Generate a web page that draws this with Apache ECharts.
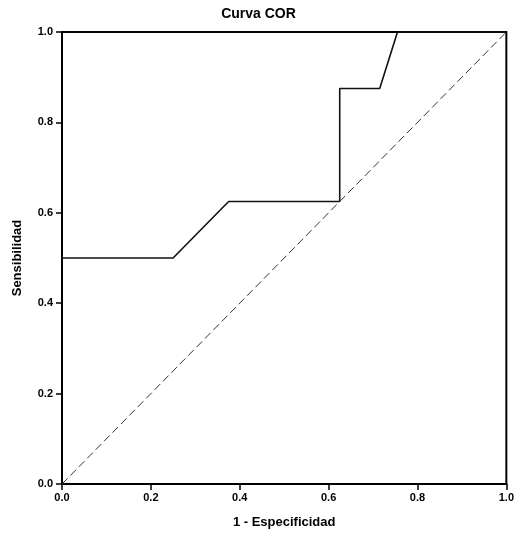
<!DOCTYPE html>
<html>
<head>
<meta charset="utf-8">
<script src="https://cdn.jsdelivr.net/npm/echarts@6/dist/echarts.min.js"></script>
<style>
html,body{margin:0;padding:0;background:#fff;}
#main{width:517px;height:536px;}
</style>
</head>
<body>
<div id="main"></div>
<script>
// curva COR: 1 - especificidad vs sensibilidad
let fpr = [0, 0.25, 0.375, 0.625, 0.625, 0.715, 0.755, 1.0];
let tpr = [0.5, 0.5, 0.625, 0.625, 0.875, 0.875, 1.0, 1.0];
let refX = [0, 1];
let refY = [0, 1];
let ticks = ['0.0', '0.2', '0.4', '0.6', '0.8', '1.0'];

window.addEventListener('load', function () {
    let chart = echarts.init(document.getElementById('main'));
    let font = 'Liberation Sans, Arial, sans-serif';
    let fmt = function (v) { return ticks[Math.round(v * 5)]; };

    let axisCommon = {
        type: 'value', min: 0, max: 1, interval: 0.2,
        nameLocation: 'middle',
        nameTextStyle: { fontFamily: font, fontWeight: 'bold', fontSize: 13, color: '#000' },
        axisLine: { show: true, lineStyle: { color: '#000', width: 2 } },
        axisTick: { show: true, inside: false, length: 6, lineStyle: { color: '#000', width: 1.5 } },
        axisLabel: { fontFamily: font, fontWeight: 'bold', fontSize: 11, color: '#000', formatter: fmt },
        splitLine: { show: false }
    };

    let option = {
        backgroundColor: '#fff',
        animation: false,
        title: {
            text: 'Curva COR', left: 'center', top: 2,
            textStyle: { fontFamily: font, fontWeight: 'bold', fontSize: 14, color: '#000' }
        },
        grid: {
            left: 62, right: 10, top: 32, bottom: 52,
            show: true, borderColor: '#000', borderWidth: 2, backgroundColor: 'transparent'
        },
        xAxis: Object.assign({}, axisCommon, {
            name: '1 - Especificidad', nameGap: 32,
            axisLabel: Object.assign({}, axisCommon.axisLabel, { margin: 8 })
        }),
        yAxis: Object.assign({}, axisCommon, {
            name: 'Sensibilidad', nameGap: 38,
            axisLabel: Object.assign({}, axisCommon.axisLabel, { margin: 9 })
        }),
        series: [
            {
                type: 'line',
                data: fpr.map((x, i) => [x, tpr[i]]),
                symbol: 'none',
                lineStyle: { color: '#111', width: 1.6 }
            },
            {
                type: 'line',
                data: refX.map((x, i) => [x, refY[i]]),
                symbol: 'none',
                lineStyle: { color: '#333', width: 1, type: [8, 4] }
            }
        ]
    };
    chart.setOption(option);
});
</script>
</body>
</html>
